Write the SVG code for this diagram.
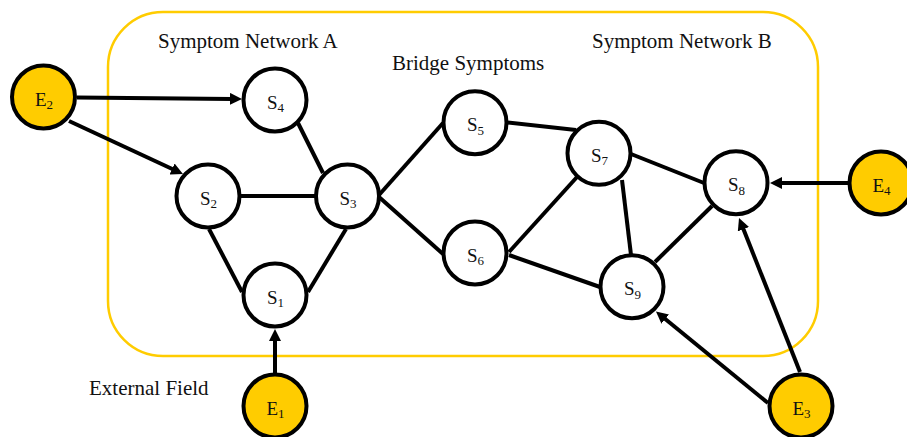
<svg xmlns="http://www.w3.org/2000/svg" width="907" height="437" viewBox="0 0 907 437">
<style>
.edge{stroke:#000;stroke-width:4;fill:none}
.arr{stroke:#000;stroke-width:4;fill:none;marker-end:url(#ah)}
.s{fill:#fff;stroke:#000;stroke-width:4}
.e{fill:#FFCC00;stroke:#000;stroke-width:4}
.lbl{font-family:"Liberation Serif","Times New Roman",serif;font-size:19px;fill:#111;text-anchor:middle}
.sub{font-size:13px}
.title{font-family:"Liberation Serif","Times New Roman",serif;font-size:21px;fill:#111}
</style>
<defs>
<marker id="ah" markerUnits="userSpaceOnUse" markerWidth="12" markerHeight="12" refX="2" refY="6" orient="auto">
<path d="M0,0 L12,6 L0,12 z" fill="#000"/>
</marker>
</defs>
<rect id="container" x="108" y="12" width="710" height="344" rx="55" ry="55" fill="none" stroke="#FFCC00" stroke-width="2.5"/>
<text class="title" x="158" y="48">Symptom Network A</text>
<text class="title" x="392" y="70">Bridge Symptoms</text>
<text class="title" x="592" y="48">Symptom Network B</text>
<text class="title" x="89" y="395">External Field</text>
<g id="connectors">
<line class="edge" x1="298" y1="123" x2="323" y2="173"/>
<line class="edge" x1="240" y1="196" x2="316" y2="196"/>
<line class="edge" x1="209" y1="229" x2="242" y2="292"/>
<line class="edge" x1="346" y1="229" x2="308" y2="292"/>
<line class="edge" x1="379" y1="195" x2="443" y2="123"/>
<line class="edge" x1="379" y1="197" x2="443" y2="254"/>
<line class="edge" x1="507" y1="122.5" x2="576" y2="130"/>
<line class="edge" x1="509" y1="252" x2="577" y2="177"/>
<line class="edge" x1="509" y1="255" x2="600" y2="287"/>
<line class="edge" x1="631" y1="154" x2="704" y2="183"/>
<line class="edge" x1="622" y1="180" x2="631" y2="255"/>
<line class="edge" x1="655" y1="262" x2="712" y2="206"/>
<line class="arr" x1="77" y1="97.5" x2="232" y2="98.9"/>
<line class="arr" x1="69" y1="121" x2="173.9" y2="169.8"/>
<line class="arr" x1="275" y1="373" x2="275" y2="339"/>
<line class="arr" x1="848" y1="183" x2="780" y2="183"/>
<line class="arr" x1="768" y1="403" x2="663.7" y2="317.8"/>
<line class="arr" x1="800" y1="372" x2="742.7" y2="227.3"/>
</g>
<g id="S1"><circle class="s" cx="275" cy="295" r="31.5"/><text class="lbl" x="275.5" y="303.5">S<tspan class="sub" dy="3.5">1</tspan></text></g>
<g id="S2"><circle class="s" cx="208" cy="196" r="31.5"/><text class="lbl" x="208.5" y="204.5">S<tspan class="sub" dy="3.5">2</tspan></text></g>
<g id="S3"><circle class="s" cx="347.5" cy="196" r="31.5"/><text class="lbl" x="348" y="204.5">S<tspan class="sub" dy="3.5">3</tspan></text></g>
<g id="S4"><circle class="s" cx="275" cy="100" r="31.5"/><text class="lbl" x="275.5" y="108.5">S<tspan class="sub" dy="3.5">4</tspan></text></g>
<g id="S5"><circle class="s" cx="475" cy="122.7" r="31.5"/><text class="lbl" x="475.5" y="131">S<tspan class="sub" dy="3.5">5</tspan></text></g>
<g id="S6"><circle class="s" cx="475" cy="253" r="31.5"/><text class="lbl" x="475.5" y="261.5">S<tspan class="sub" dy="3.5">6</tspan></text></g>
<g id="S7"><circle class="s" cx="599" cy="153.3" r="31.5"/><text class="lbl" x="599.5" y="161.8">S<tspan class="sub" dy="3.5">7</tspan></text></g>
<g id="S8"><circle class="s" cx="736" cy="182.7" r="31.5"/><text class="lbl" x="736.5" y="191.2">S<tspan class="sub" dy="3.5">8</tspan></text></g>
<g id="S9"><circle class="s" cx="632" cy="286.7" r="31.5"/><text class="lbl" x="632.5" y="295.2">S<tspan class="sub" dy="3.5">9</tspan></text></g>
<g id="E1"><circle class="e" cx="275" cy="406" r="31.5"/><text class="lbl" x="275.5" y="414.5">E<tspan class="sub" dy="3.5">1</tspan></text></g>
<g id="E2"><circle class="e" cx="43.5" cy="97" r="31.5"/><text class="lbl" x="44" y="105.5">E<tspan class="sub" dy="3.5">2</tspan></text></g>
<g id="E3"><circle class="e" cx="801" cy="406" r="31.5"/><text class="lbl" x="801.5" y="414.5">E<tspan class="sub" dy="3.5">3</tspan></text></g>
<g id="E4"><circle class="e" cx="881" cy="183" r="31.5"/><text class="lbl" x="881.5" y="191.5">E<tspan class="sub" dy="3.5">4</tspan></text></g>
</svg>
